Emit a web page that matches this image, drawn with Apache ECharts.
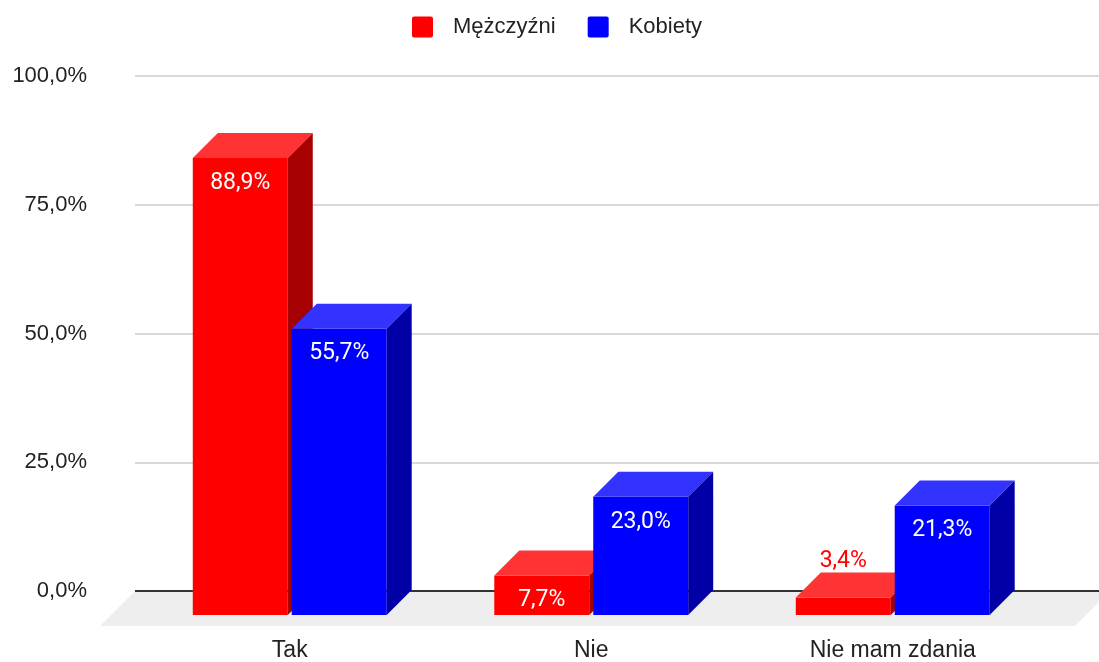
<!DOCTYPE html>
<html>
<head>
<meta charset="utf-8">
<script src="https://cdn.jsdelivr.net/npm/echarts@6/dist/echarts.min.js"></script>
<style>
  html, body { margin: 0; padding: 0; background: #fff; }
  #chart { width: 1099px; height: 662px; }
</style>
</head>
<body>
<div id="chart"></div>
<script>
// dane z wykresu
var categories = ['Tak', 'Nie', 'Nie mam zdania'];
var seriesNames = ['Mężczyźni', 'Kobiety'];
var men = [88.9, 7.7, 3.4];
var women = [55.7, 23.0, 21.3];
var yTicks = [0, 25, 50, 75, 100];

var DEPTH = 25;
var AXIS_FONT = 'Arial, "Liberation Sans", sans-serif';
var ICON = 'path://M2,0H18A2,2 0 0 1 20,2V18A2,2 0 0 1 18,20H2A2,2 0 0 1 0,18V2A2,2 0 0 1 2,0Z';

function fmt(v) {
    return v.toFixed(1).replace('.', ',') + '%';
}

// słupek 3D: przód, góra, bok
function bar3d(side, colors) {
    return function (params, api) {
        var cat = api.value(0);
        var val = api.value(1);
        var zero = api.coord([cat, 0]);
        var top = api.coord([cat, val]);
        var band = api.size([1, 0])[0];
        var w = band * 0.315;
        var gap = band * 0.0066;
        var x0 = side === 0 ? zero[0] - gap - w : zero[0] + gap;
        var x1 = x0 + w;
        var fTop = top[1] + DEPTH, fBot = zero[1] + DEPTH;
        var bTop = top[1], bBot = zero[1];
        var inside = (fBot - fTop) > 34;
        return {
            type: 'group',
            children: [
                { type: 'rect', shape: { x: x0, y: fTop, width: w, height: fBot - fTop },
                  style: { fill: colors[0] } },
                { type: 'polygon', shape: { points: [[x0, fTop], [x0 + DEPTH, bTop], [x1 + DEPTH, bTop], [x1, fTop]] },
                  style: { fill: colors[1] } },
                { type: 'polygon', shape: { points: [[x1, fTop], [x1 + DEPTH, bTop], [x1 + DEPTH, bBot], [x1, fBot]] },
                  style: { fill: colors[2] } },
                { type: 'text', x: (x0 + x1) / 2, y: inside ? fTop + 25 : bTop - 11, z2: 10,
                  style: {
                      text: fmt(val), fill: inside ? '#fff' : colors[0],
                      stroke: inside ? null : '#fff', lineWidth: inside ? 0 : 3,
                      font: '23px Roboto', align: 'center', verticalAlign: 'middle'
                  } }
            ]
        };
    };
}

// podłoga + linia zera
function floorRender(params, api) {
    var cs = params.coordSys;
    var zy = api.coord([0, 0])[1];
    var d = 35;
    return {
        type: 'group',
        children: [
            { type: 'polygon',
              shape: { points: [[cs.x, zy], [cs.x + cs.width + 11, zy], [cs.x + cs.width + 11 - d, zy + d], [cs.x - d, zy + d]] },
              style: { fill: '#eeeeee' } },
            { type: 'line', shape: { x1: cs.x, y1: zy, x2: cs.x + cs.width, y2: zy },
              style: { stroke: '#333', lineWidth: 2 } }
        ]
    };
}

var myChart = echarts.init(document.getElementById('chart'));

var option = {
    animation: false,
    legend: {
        left: 407,
        top: 11,
        itemWidth: 21,
        itemHeight: 21,
        itemGap: 32,
        textStyle: { fontFamily: AXIS_FONT, fontSize: 22, color: '#222', padding: [0, 0, 0, 15] },
        data: [
            { name: seriesNames[0], icon: ICON },
            { name: seriesNames[1], icon: ICON }
        ]
    },
    grid: [
        { left: 139, right: 55.5, top: 76, bottom: 71 },
        { left: 135, right: 0, top: 76, bottom: 71 }
    ],
    xAxis: [
        { type: 'category', gridIndex: 0, data: categories,
          axisLine: { show: false }, axisTick: { show: false },
          axisLabel: { margin: 49, fontFamily: AXIS_FONT, fontSize: 23, color: '#222' } },
        { type: 'value', gridIndex: 1, min: 0, max: 1, show: false }
    ],
    yAxis: [
        { type: 'value', gridIndex: 0, min: 0, max: 100, show: false },
        { type: 'value', gridIndex: 1, min: yTicks[0], max: yTicks[yTicks.length - 1], interval: 25,
          axisLine: { show: false }, axisTick: { show: false },
          splitLine: { lineStyle: { color: '#cccccc', width: 1.5 } },
          axisLabel: { margin: 48, fontFamily: AXIS_FONT, fontSize: 22, color: '#222', formatter: fmt } }
    ],
    series: [
        { type: 'custom', name: 'floor', xAxisIndex: 1, yAxisIndex: 1, z: 1, silent: true,
          renderItem: floorRender, data: [[0, 0]] },
        { type: 'custom', name: seriesNames[0], xAxisIndex: 0, yAxisIndex: 0, zlevel: 1, z: 10,
          itemStyle: { color: '#ff0000' },
          renderItem: bar3d(0, ['#ff0000', '#ff3333', '#a60000']),
          encode: { x: 0, y: 1 },
          data: men.map(function (v, i) { return [i, v]; }) },
        { type: 'custom', name: seriesNames[1], xAxisIndex: 0, yAxisIndex: 0, zlevel: 1, z: 11,
          itemStyle: { color: '#0000ff' },
          renderItem: bar3d(1, ['#0000ff', '#3333ff', '#0000a6']),
          encode: { x: 0, y: 1 },
          data: women.map(function (v, i) { return [i, v]; }) }
    ]
};

myChart.setOption(option);

window.addEventListener('resize', function () {
    myChart.resize();
});
</script>
</body>
</html>
